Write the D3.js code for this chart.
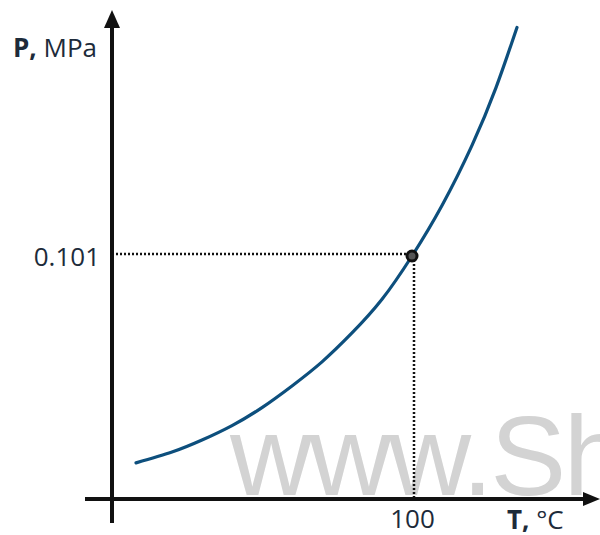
<!DOCTYPE html>
<html>
<head>
<meta charset="utf-8">
<script src="https://cdn.jsdelivr.net/npm/d3@7"></script>
<style>
  body { margin: 0; background: #fff; }
  text { font-family: "Open Sans", "Noto Sans", sans-serif; }
</style>
</head>
<body>
<svg width="600" height="535"></svg>
<script>
// saturation curve (T in °C, P in MPa)
const temps = [8, 20, 30, 40, 50, 60, 70, 80, 90, 100, 110, 120, 128, 135];
const pressures = [0.015, 0.0195, 0.0245, 0.0305, 0.038, 0.047, 0.057, 0.069, 0.083, 0.101, 0.122, 0.147, 0.171, 0.196];
const markT = [100];
const markP = [0.101];
const xTicks = [100];
const yTicks = [0.101];

const svg = d3.select('svg');
const width = +svg.attr('width');
const height = +svg.attr('height');

const x = d3.scaleLinear().domain([0, 100]).range([112, 412]);
const y = d3.scaleLinear().domain([0, 0.101]).range([499, 256]);

const ink = '#111';
const textColor = '#1d2b3a';

// watermark
svg.append('text')
    .attr('x', 230)
    .attr('y', 495)
    .attr('font-size', 114)
    .attr('letter-spacing', -3)
    .attr('fill', '#d3d3d3')
    .style('font-family', '"Liberation Sans", Arial, sans-serif')
    .text('www.Sh');

// dotted guides
const guides = svg.append('g')
    .attr('stroke', ink)
    .attr('stroke-width', 2.5)
    .attr('stroke-dasharray', '2,2');

guides.append('line')
    .attr('x1', x(0)).attr('x2', x(markT[0]))
    .attr('y1', y(markP[0]) - 2).attr('y2', y(markP[0]) - 2);

guides.append('line')
    .attr('x1', x(markT[0]) + 2).attr('x2', x(markT[0]) + 2)
    .attr('y1', y(markP[0])).attr('y2', y(0));

// axes as arrows
const axesG = svg.append('g').attr('fill', ink).attr('stroke', ink);

axesG.append('line')
    .attr('x1', 85).attr('x2', 590)
    .attr('y1', y(0)).attr('y2', y(0))
    .attr('stroke-width', 4);
axesG.append('path')
    .attr('stroke', 'none')
    .attr('d', `M600,${y(0)} L583,${y(0) - 7} L583,${y(0) + 7} Z`);

axesG.append('line')
    .attr('x1', x(0)).attr('x2', x(0))
    .attr('y1', 523).attr('y2', 22)
    .attr('stroke-width', 4);
axesG.append('path')
    .attr('stroke', 'none')
    .attr('d', `M${x(0)},10 L${x(0) - 8},28 L${x(0) + 8},28 Z`);

// tick labels through d3 axes, no tick marks
const xAxis = svg.append('g')
    .attr('transform', `translate(0,${y(0)})`)
    .call(d3.axisBottom(x).tickValues(xTicks).tickSize(0).tickPadding(14));
const yAxis = svg.append('g')
    .attr('transform', `translate(${x(0)},0)`)
    .call(d3.axisLeft(y).tickValues(yTicks).tickSize(0).tickPadding(12).tickFormat(d3.format('.3f')));

[xAxis, yAxis].forEach(a => {
  a.select('.domain').remove();
  a.selectAll('text')
      .attr('font-family', null)
      .attr('font-size', 26)
      .attr('fill', textColor);
});
xAxis.selectAll('text').attr('dy', '0.71em').attr('y', 11);
yAxis.selectAll('text').attr('dy', '0.36em').attr('y', 0).attr('x', -12);

// axis titles
const tTitle = svg.append('text')
    .attr('x', 507).attr('y', 529)
    .attr('font-size', 26)
    .attr('fill', textColor);
tTitle.append('tspan').attr('font-weight', 'bold').text('T,');
tTitle.append('tspan').text(' °C');

const pTitle = svg.append('text')
    .attr('x', 13).attr('y', 57)
    .attr('font-size', 26)
    .attr('fill', textColor);
pTitle.append('tspan').attr('font-weight', 'bold').text('P,');
pTitle.append('tspan').text(' MPa');

// curve
const pts = temps.map((t, i) => [t, pressures[i]]);
const line = d3.line()
    .x(d => x(d[0]))
    .y(d => y(d[1]))
    .curve(d3.curveNatural);

svg.append('path')
    .datum(pts)
    .attr('d', line)
    .attr('fill', 'none')
    .attr('stroke', '#0d4f7d')
    .attr('stroke-width', 3.2)
    .attr('stroke-linecap', 'round');

// marked point
svg.append('circle')
    .attr('cx', x(markT[0]))
    .attr('cy', y(markP[0]))
    .attr('r', 5)
    .attr('fill', '#555')
    .attr('stroke', ink)
    .attr('stroke-width', 3);
</script>
</body>
</html>
